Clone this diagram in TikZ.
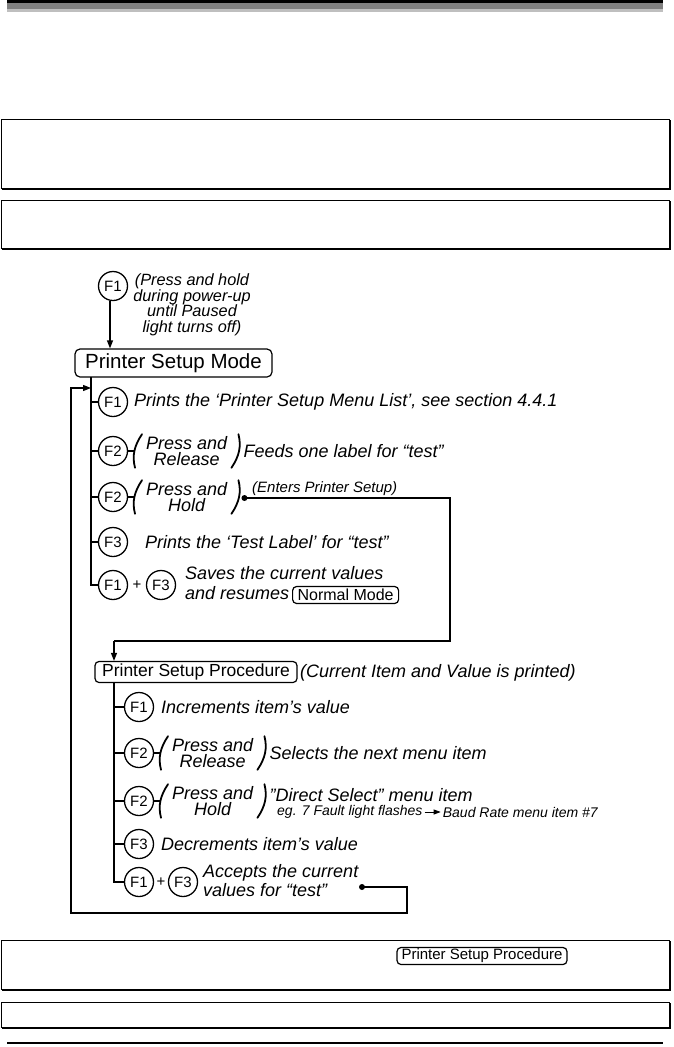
\documentclass[tikz,border=0pt]{standalone}
\usepackage{fontspec}
\setmainfont{Liberation Sans}
\usetikzlibrary{arrows.meta}
\tikzset{
  key/.style={circle, draw, line width=1.3pt, minimum size=29pt, inner sep=0pt, font=\fontsize{15}{15}\selectfont},
  desc/.style={anchor=west, inner sep=0pt, font=\fontsize{18}{18}\selectfont\itshape},
  smalldesc/.style={anchor=west, inner sep=0pt, font=\fontsize{14}{14}\selectfont\itshape},
  topnote/.style={inner sep=0pt, align=center, font=\fontsize{16.3}{15.5}\selectfont\itshape},
  modebox/.style={draw, rounded corners=5pt, line width=1.2pt, inner sep=0pt},
  pgroup/.style={inner xsep=13pt, inner ysep=1pt, align=center, anchor=west, font=\fontsize{18}{16}\selectfont\itshape},
  parenline/.style={line width=1.8pt, line cap=round},
  ln/.style={line width=1.2pt},
  arr/.style={line width=1.2pt, -{Triangle[length=8pt,width=6pt]}},
  dotnode/.style={circle, fill, inner sep=0pt, minimum size=6pt},
  plusnode/.style={inner sep=0pt, font=\fontsize{15}{15}\selectfont},
  framebox/.style={draw, line width=1pt},
  shadowline/.style={line width=1.8pt}
}
\newcommand{\drawparens}[1]{%
  \draw[parenline] ([shift={(9,-1)}]#1.north west) .. controls ([shift={(1,11)}]#1.north west) and ([shift={(-1,-11)}]#1.south west) .. ([shift={(2,1)}]#1.south west);
  \draw[parenline] ([shift={(-2,-1)}]#1.north east) .. controls ([shift={(1,11)}]#1.north east) and ([shift={(-1,-11)}]#1.south east) .. ([shift={(-9,1)}]#1.south east);}
\begin{document}
\begin{tikzpicture}[x=1pt,y=-1pt]
\useasboundingbox (0,0) rectangle (673,1047);
% header bar
\fill[black] (7,0) rectangle (663,3);
\fill[black!50] (7,3) rectangle (663,9);
\fill[black!25] (7,9) rectangle (663,12);
% upper frames
\draw[framebox] (1,119) rectangle (669,188);
\draw[shadowline] (2,189) -- (670,189) -- (670,120);
\draw[framebox] (1,200) rectangle (669,248);
\draw[shadowline] (2,249) -- (670,249) -- (670,201);

% ---------- Printer Setup Mode ----------
\node[key] (k0) at (113,286) {F1};
\node[topnote] (k0t) at (192,305) {(Press and hold\\during power-up\\until Paused\\light turns off)};
\node[modebox, minimum width=197pt, minimum height=28pt, font=\fontsize{20.5}{20.5}\selectfont] (psm) at (173.5,363) {Printer Setup Mode};
\draw[arr] ([xshift=-3pt]k0.south) -- ([xshift=-3pt]k0.south |- psm.north);

\coordinate (trA) at (91,377);
\node[key] (a1) at (113,402) {F1};
\node[desc] (a1t) at (134,402) {Prints the ‘Printer Setup Menu List’, see section 4.4.1};
\node[key] (a2) at (113,451) {F2};
\node[pgroup] (a2p) at (133,451) {Press and\\Release};
\node[desc] (a2t) at ([xshift=3pt]a2p.east) {Feeds one label for “test”};
\node[key] (a3) at (113,497) {F2};
\node[pgroup] (a3p) at (133,497) {Press and\\Hold};
\node[dotnode] (a3d) at ([xshift=4pt]a3p.east |- 0,498) {};
\node[smalldesc, font=\fontsize{15}{15}\selectfont\itshape] (a3t) at (252,489) {(Enters Printer Setup)};
\node[key] (a4) at (113,542) {F3};
\node[desc] (a4t) at (145,542) {Prints the ‘Test Label’ for “test”};
\node[key] (a5) at (113,585) {F1};
\node[plusnode] (a5plus) at (137,585) {+};
\node[key] (a5b) at (161,585) {F3};
\node[desc] (a5t1) at (185,573) {Saves the current values};
\node[desc] (a5t2) at (185,593) {and resumes};
\node[modebox, rounded corners=4pt, minimum height=17pt, minimum width=106pt, font=\fontsize{16}{16}\selectfont, anchor=west] (nm) at (292,595) {Normal Mode};
\drawparens{a2p}
\drawparens{a3p}

\coordinate (trB) at (a5.west -| trA);
\draw[ln] (trA) -- (trB) -- (a5.west);
\draw[ln] (a1.west -| trA) -- (a1.west);
\draw[ln] (a2.west -| trA) -- (a2.west);
\draw[ln] (a3.west -| trA) -- (a3.west);
\draw[ln] (a4.west -| trA) -- (a4.west);
\draw[ln] (a2.east) -- ([xshift=2pt]a2p.west);
\draw[ln] (a3.east) -- ([xshift=2pt]a3p.west);

% connector to procedure
\coordinate (c1) at (450,498);
\coordinate (c2) at (450,641);
\coordinate (c3) at (114,641);
\node[modebox, rounded corners=4pt, minimum width=202pt, minimum height=21pt, font=\fontsize{17.5}{17.5}\selectfont] (psp) at (196,672) {Printer Setup Procedure};
\draw[ln] (a3d.center) -- (c1) -- (c2) -- (c3);
\draw[arr] (c3) -- (c3 |- psp.north);
\node[desc] (pspt) at (300,673) {(Current Item and Value is printed)};

% ---------- Printer Setup Procedure ----------
\coordinate (trC) at (114,682.5);
\node[key] (b1) at (139,707) {F1};
\node[desc] (b1t) at (161,707) {Increments item’s value};
\node[key] (b2) at (139,753) {F2};
\node[pgroup] (b2p) at (159,753) {Press and\\Release};
\node[desc] (b2t) at ([xshift=3pt]b2p.east) {Selects the next menu item};
\node[key] (b3) at (139,801) {F2};
\node[pgroup] (b3p) at (159,801) {Press and\\Hold};
\node[desc] (b3t) at ([xshift=3pt]b3p.east |- 0,795) {”Direct Select” menu item};
\node[smalldesc] (b3s1) at (277,812) {eg. 7 Fault light flashes};
\node[smalldesc] (b3s2) at ([xshift=20pt]b3s1.east) {Baud Rate menu item \#7};
\draw[line width=0.8pt, -{Triangle[length=7pt,width=5pt]}] ([xshift=2pt]b3s1.east) -- ([xshift=-2pt]b3s2.west);
\node[key] (b4) at (139,844) {F3};
\node[desc] (b4t) at (161,844) {Decrements item’s value};
\node[key] (b5) at (139,882) {F1};
\node[plusnode] (b5plus) at (161,882) {+};
\node[key] (b5b) at (183,882) {F3};
\node[desc] (b5t1) at (203,873) {Accepts the current};
\node[desc] (b5t2) at (203,890) {values for “test”};
\node[dotnode] (b5d) at (362,887) {};
\drawparens{b2p}
\drawparens{b3p}

\coordinate (trD) at (b5.west -| trC);
\draw[ln] (trC) -- (trD) -- (b5.west);
\draw[ln] (b1.west -| trC) -- (b1.west);
\draw[ln] (b2.west -| trC) -- (b2.west);
\draw[ln] (b3.west -| trC) -- (b3.west);
\draw[ln] (b4.west -| trC) -- (b4.west);
\draw[ln] (b2.east) -- ([xshift=2pt]b2p.west);
\draw[ln] (b3.east) -- ([xshift=2pt]b3p.west);

% loop back
\coordinate (d1) at (407,887);
\coordinate (d2) at (407,913);
\coordinate (d3) at (71,913);
\coordinate (d4) at (71,388);
\draw[arr] (b5d.center) -- (d1) -- (d2) -- (d3) -- (d4) -- (d4 -| trA);

% lower frames
\draw[framebox] (1,940) rectangle (669,989);
\draw[shadowline] (2,990) -- (670,990) -- (670,941);
\node[modebox, rounded corners=4pt, minimum width=170pt, minimum height=17pt, font=\fontsize{15}{15}\selectfont] (psp2) at (482,956) {Printer Setup Procedure};
\draw[framebox] (1,1002) rectangle (669,1027);
\draw[shadowline] (2,1028) -- (670,1028) -- (670,1003);
\fill[black] (7,1042) rectangle (663,1044);
\end{tikzpicture}
\end{document}
